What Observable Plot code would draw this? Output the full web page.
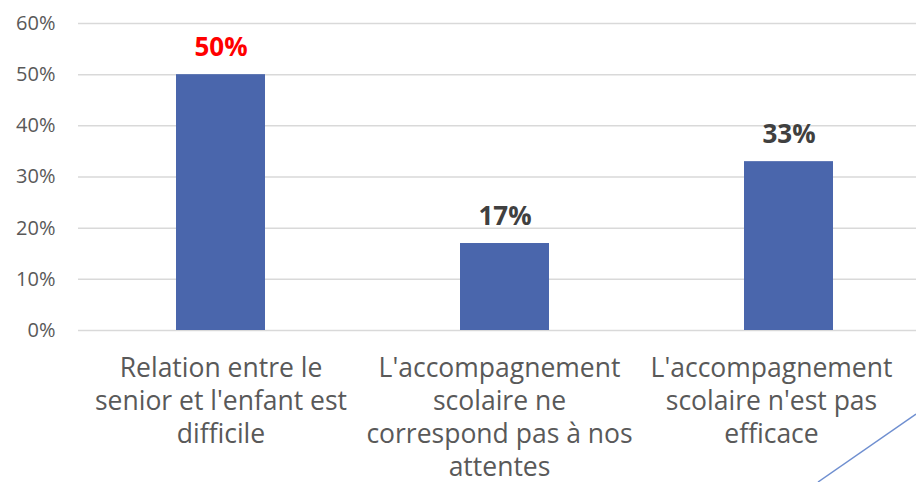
<!DOCTYPE html>
<html>
<head>
<meta charset="utf-8">
<script src="https://cdn.jsdelivr.net/npm/d3@7"></script>
<script src="https://cdn.jsdelivr.net/npm/@observablehq/plot@0.6"></script>
<style>
  html, body { margin: 0; padding: 0; background: #fff; overflow: hidden; }
  #wrap { position: relative; width: 916px; height: 482px; overflow: hidden; }
  #chart { width: 930px; }
  #deco { position: absolute; left: 0; top: 0; pointer-events: none; }
</style>
</head>
<body>
<div id="wrap"><div id="chart"></div>
<svg id="deco" width="916" height="482"><line x1="916" y1="414" x2="818" y2="482" stroke="#6F8FD0" stroke-width="1.5"/></svg>
</div>
<script>
const categories = [
  "Relation entre le senior et l'enfant est difficile",
  "L'accompagnement scolaire ne correspond pas à nos attentes",
  "L'accompagnement scolaire n'est pas efficace"
];
const tickLabels = [
  "Relation entre le\nsenior et l'enfant est\ndifficile",
  "L'accompagnement\nscolaire ne\ncorrespond pas à nos\nattentes",
  "L'accompagnement\nscolaire n'est pas\nefficace"
];
const values = [0.50, 0.17, 0.33];
const yTicks = [0, 0.1, 0.2, 0.3, 0.4, 0.5, 0.6];
const highlightIndex = 0;

const data = categories.map((c, i) => ({category: c, label: tickLabels[i], value: values[i], i}));
const labelOf = new Map(categories.map((c, i) => [c, tickLabels[i]]));
const pct = d3.format(".0%");
const font = "'Open Sans', sans-serif";
const xLabelStyle = {tickSize: 0, tickPadding: 23, tickFormat: (c) => labelOf.get(c), fontSize: 26.5, lineHeight: 1.25, fill: "#595959", label: null};

const chart = Plot.plot({
  width: 930,
  height: 482,
  marginLeft: 78,
  marginRight: 0,
  marginTop: 23,
  marginBottom: 152,
  style: {fontFamily: font, background: "transparent", maxWidth: "none"},
  x: {domain: categories, paddingInner: 0.687, paddingOuter: 0.3435, align: 0.5},
  y: {domain: [0, 0.6]},
  marks: [
    Plot.gridY(yTicks, {stroke: "#D9D9D9", strokeOpacity: 1, strokeWidth: 1.5}),
    Plot.axisY(yTicks, {tickSize: 0, tickPadding: 23, tickFormat: pct, fontSize: 20, fill: "#595959", label: null}),
    Plot.axisX([categories[0]], {...xLabelStyle}),
    Plot.axisX([categories[1]], {...xLabelStyle, dx: -5.5}),
    Plot.axisX([categories[2]], {...xLabelStyle, dx: -17.5}),
    Plot.barY(data, {x: "category", y: "value", fill: "#4A66AC"}),
    Plot.text(data, {x: "category", y: "value", text: (d) => pct(d.value), dy: -19, lineAnchor: "bottom", fontSize: 26, fontWeight: "bold", fill: (d) => d.i === highlightIndex ? "#FF0000" : "#404040"})
  ]
});
document.getElementById("chart").appendChild(chart);
</script>
</body>
</html>
